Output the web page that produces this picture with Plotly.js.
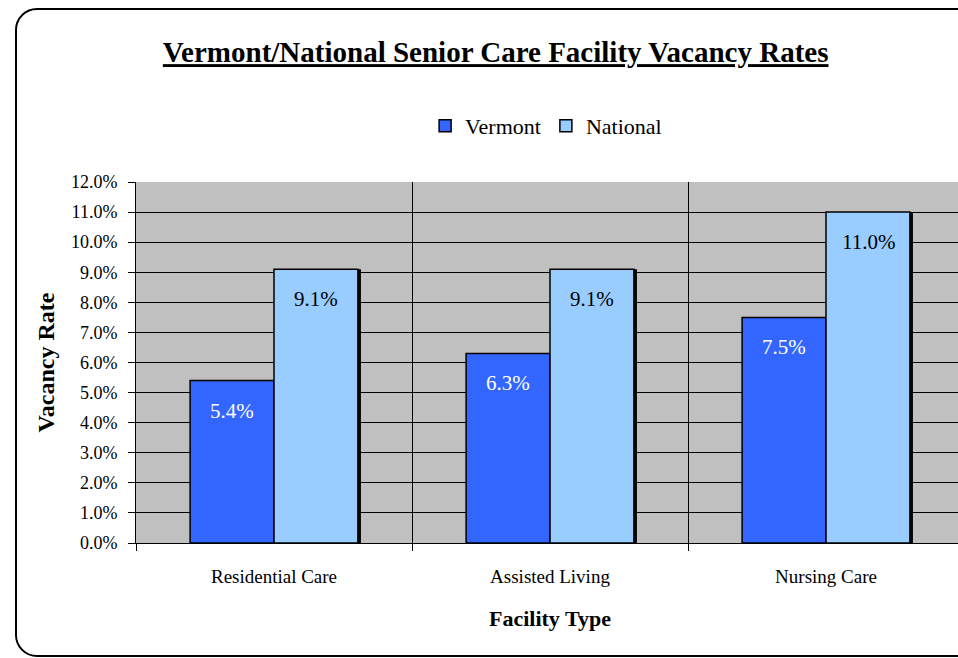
<!DOCTYPE html>
<html>
<head>
<meta charset="utf-8">
<script src="https://cdn.plot.ly/plotly-3.0.1.min.js"></script>
<style>
html,body{margin:0;padding:0;overflow:hidden;background:#fff;width:958px;height:658px;}
#chart{position:absolute;left:0;top:0;}
#frame{position:absolute;left:15px;top:8px;width:1000px;height:645px;border:2px solid #000;border-radius:22px;pointer-events:none;}
</style>
</head>
<body>
<div id="chart"></div>
<div id="frame"></div>
<script>
const categories = ["Residential Care", "Assisted Living", "Nursing Care"];
const vermont = [0.054, 0.063, 0.075];
const national = [0.091, 0.091, 0.110];
const seriesNames = ["Vermont", "National"];

const font = "Liberation Serif";
const W = 0.304;
const fmt = v => (v * 100).toFixed(1) + "%";

const traces = [
  {
    type: "bar", x: categories, y: national,
    width: W, offset: 0.011, marker: {color: "#000000", line: {width: 0}},
    showlegend: false, hoverinfo: "skip"
  },
  {
    type: "bar", name: seriesNames[0], x: categories, y: vermont,
    width: W, offset: -W,
    marker: {color: "#3366FF", line: {color: "#000000", width: 1.5}}
  },
  {
    type: "bar", name: seriesNames[1], x: categories, y: national,
    width: W, offset: 0,
    marker: {color: "#99CCFF", line: {color: "#000000", width: 1.5}}
  }
];

const annotations = [];
categories.forEach((c, i) => {
  annotations.push({
    x: c, y: vermont[i], xref: "x", yref: "y", text: fmt(vermont[i]),
    showarrow: false, xshift: -42, yshift: -30, yanchor: "middle",
    font: {family: font, size: 21, color: "#FFFFFF"}
  });
  annotations.push({
    x: c, y: national[i], xref: "x", yref: "y", text: fmt(national[i]),
    showarrow: false, xshift: 42, yshift: -30, yanchor: "middle",
    font: {family: font, size: 21, color: "#000000"}
  });
});

const layout = {
  width: 970, height: 658,
  margin: {l: 136, r: 6, t: 182, b: 115},
  paper_bgcolor: "rgba(0,0,0,0)",
  plot_bgcolor: "#C0C0C0",
  barmode: "overlay",
  font: {family: font, color: "#000000", size: 18},
  annotations: annotations,
  title: {
    text: "<b><u>Vermont/National Senior Care Facility Vacancy Rates</u></b>",
    font: {family: font, size: 29, color: "#000000"},
    xref: "container", x: 0.511, xanchor: "center",
    yref: "container", y: 0.921, yanchor: "middle"
  },
  showlegend: true,
  legend: {
    orientation: "h", xref: "container", yref: "container",
    x: 0.563, xanchor: "center", y: 0.8085, yanchor: "middle",
    font: {family: font, size: 22, color: "#000000"},
    traceorder: "normal", itemwidth: 30
  },
  xaxis: {
    type: "category", range: [-0.5, 2.5],
    tickson: "boundaries", ticks: "outside", ticklen: 7, tickcolor: "#000", tickwidth: 1,
    showgrid: true, gridcolor: "#000000", gridwidth: 1,
    showline: true, linecolor: "#000000", linewidth: 1,
    tickfont: {family: font, size: 19, color: "#000"},
    ticklabelstandoff: 16,
    title: {text: "<b>Facility Type</b>", font: {family: font, size: 22, color: "#000"}, standoff: 24},
    fixedrange: true
  },
  yaxis: {
    range: [0, 0.12], dtick: 0.01, tick0: 0, tickformat: ".1%",
    ticks: "outside", ticklen: 7, tickcolor: "#000", tickwidth: 1,
    showgrid: true, gridcolor: "#000000", gridwidth: 1,
    showline: true, linecolor: "#000000", linewidth: 1,
    zeroline: true, zerolinecolor: "#000000",
    tickfont: {family: font, size: 18, color: "#000"},
    ticklabelstandoff: 7,
    title: {text: "<b>Vacancy Rate</b>", font: {family: font, size: 24, color: "#000"}, standoff: 9},
    fixedrange: true
  }
};

Plotly.newPlot("chart", traces, layout, {displayModeBar: false, staticPlot: true});
</script>
</body>
</html>
